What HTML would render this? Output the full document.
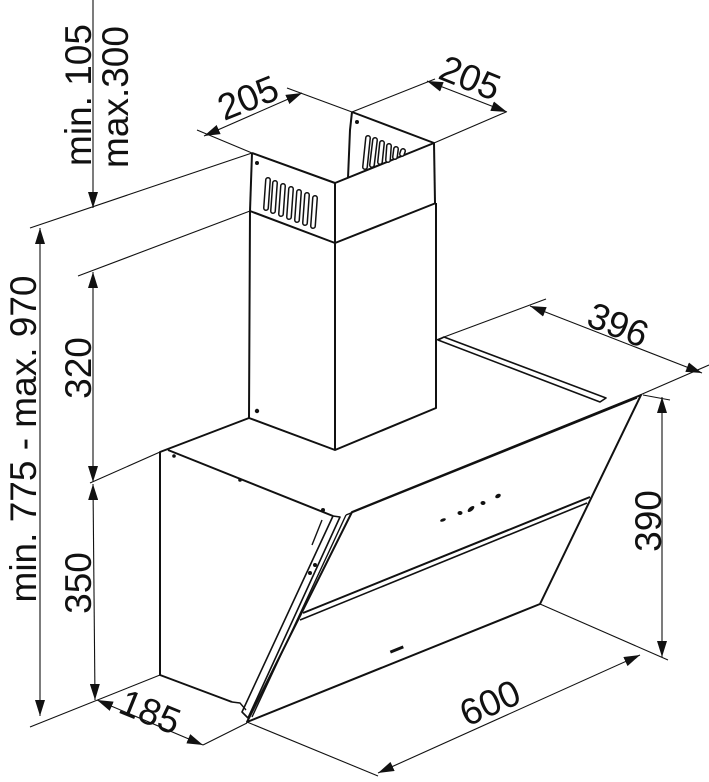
<!DOCTYPE html>
<html><head><meta charset="utf-8"><style>
html,body{margin:0;padding:0;background:#fff}
svg{display:block}
text{font-family:"Liberation Sans",sans-serif;font-size:37px;fill:#111}
</style></head><body>
<svg width="709" height="782" viewBox="0 0 709 782" xmlns="http://www.w3.org/2000/svg">
<defs>
<marker id="a" viewBox="0 0 16 10" refX="16" refY="5" markerWidth="16" markerHeight="10" markerUnits="userSpaceOnUse" orient="auto-start-reverse">
<path d="M0,0 L16,5 L0,10 z" fill="#111"/>
</marker>
</defs>
<g stroke="#111" stroke-width="1.1" fill="none">
<line x1="30" y1="228" x2="252" y2="153"/>
<line x1="78" y1="276" x2="250" y2="211"/>
<line x1="90" y1="483" x2="160" y2="452"/>
<line x1="30" y1="727" x2="160" y2="675"/>
<line x1="203" y1="745" x2="247" y2="723"/>
<line x1="247" y1="722" x2="378" y2="776"/>
<line x1="540" y1="604" x2="668" y2="660"/>
<line x1="643" y1="395" x2="670" y2="400"/>
<line x1="436" y1="340" x2="546" y2="299"/>
<line x1="640" y1="395" x2="709" y2="365"/>
<line x1="197" y1="130" x2="252" y2="153"/>
<line x1="287" y1="88" x2="352" y2="112"/>
<line x1="352" y1="112" x2="435" y2="79"/>
<line x1="434" y1="143" x2="506" y2="112"/>
<line x1="40" y1="228" x2="40" y2="716" marker-start="url(#a)" marker-end="url(#a)"/>
<line x1="93" y1="0" x2="93" y2="208" marker-end="url(#a)"/>
<line x1="93" y1="272" x2="93" y2="482" marker-start="url(#a)" marker-end="url(#a)"/>
<line x1="93" y1="484" x2="95" y2="700" marker-start="url(#a)" marker-end="url(#a)"/>
<line x1="97" y1="700" x2="203" y2="745" marker-start="url(#a)" marker-end="url(#a)"/>
<line x1="378" y1="773" x2="640" y2="655" marker-start="url(#a)" marker-end="url(#a)"/>
<line x1="662" y1="397" x2="662" y2="657" marker-start="url(#a)" marker-end="url(#a)"/>
<line x1="530" y1="306" x2="702" y2="373" marker-start="url(#a)" marker-end="url(#a)"/>
<line x1="204" y1="136" x2="302" y2="93" marker-start="url(#a)" marker-end="url(#a)"/>
<line x1="427" y1="81" x2="507" y2="112" marker-start="url(#a)" marker-end="url(#a)"/>
</g>
<g stroke="#111" stroke-width="2" fill="none" stroke-linejoin="round">
<path d="M252,153 L335,183 L434,143 L352,112"/>
<path d="M352,112 L350,130 L348,178"/>
<line x1="252" y1="153" x2="250" y2="211"/>
<line x1="335" y1="183" x2="335" y2="243"/>
<line x1="434" y1="143" x2="435" y2="203"/>
<path d="M250,211 L335,243 L436,203"/>
<path d="M250,211 L249,418 L335,450 L436,408 L436,203"/>
<line x1="335" y1="243" x2="335" y2="450"/>
<path d="M249,418 L160,452 L160,675 L232,702"/>
<path d="M168,450 L333,516"/>
<path d="M333,516 L340,517 L248,718 L242,712 Z" stroke-width="1.6"/>
<path d="M322,520 L312,545" stroke-width="1.4"/>
<path d="M232,702 L240,703 L246,710" stroke-width="1.4"/>
<path d="M352,512 L641,395 L540,604 L247,722 Z"/>
<path d="M346,515 L637,398" stroke-width="1.4"/>
<path d="M346,515 L252,717" stroke-width="1.4"/>
<path d="M303,613 L590,497" stroke-width="2"/>
<path d="M300,620 L587,503" stroke-width="1.6"/>
<path d="M438,340 L600,402 L606,398 L444,337 Z" stroke-width="1.6"/>
</g>
<g stroke-linecap="round">
<g stroke="#111" stroke-width="6">
<line x1="268" y1="180" x2="266" y2="208"/><line x1="275" y1="183" x2="273" y2="211"/><line x1="283" y1="186" x2="281" y2="214"/><line x1="291" y1="189" x2="289" y2="217"/><line x1="299" y1="192" x2="297" y2="220"/><line x1="307" y1="195" x2="305" y2="223"/><line x1="315" y1="198" x2="313" y2="226"/>
<line x1="368" y1="138" x2="365" y2="167"/><line x1="375" y1="140" x2="372" y2="165"/><line x1="382" y1="143" x2="380" y2="162"/><line x1="389" y1="146" x2="388" y2="160"/><line x1="396" y1="149" x2="395" y2="157"/><line x1="403" y1="151" x2="402" y2="154"/>
</g>
<g stroke="#fff" stroke-width="3">
<line x1="268" y1="180" x2="266" y2="208"/><line x1="275" y1="183" x2="273" y2="211"/><line x1="283" y1="186" x2="281" y2="214"/><line x1="291" y1="189" x2="289" y2="217"/><line x1="299" y1="192" x2="297" y2="220"/><line x1="307" y1="195" x2="305" y2="223"/><line x1="315" y1="198" x2="313" y2="226"/>
<line x1="368" y1="138" x2="365" y2="167"/><line x1="375" y1="140" x2="372" y2="165"/><line x1="382" y1="143" x2="380" y2="162"/><line x1="389" y1="146" x2="388" y2="160"/><line x1="396" y1="149" x2="395" y2="157"/><line x1="403" y1="151" x2="402" y2="154"/>
</g>
</g>
<g fill="#111">
<circle cx="257" cy="163" r="2"/><circle cx="357" cy="122" r="2"/><circle cx="257" cy="411" r="2.2"/>
<circle cx="174" cy="456" r="1.8"/><circle cx="240" cy="480" r="1.8"/><circle cx="323" cy="510" r="2"/>
<circle cx="315" cy="565" r="2"/><circle cx="310" cy="573" r="2"/>
<ellipse cx="443" cy="520" rx="3" ry="1.5" transform="rotate(-22 443 520)"/>
<ellipse cx="460" cy="513" rx="2.5" ry="2"/>
<ellipse cx="471" cy="509" rx="4" ry="2" transform="rotate(-40 471 509)"/>
<ellipse cx="483" cy="503" rx="2.5" ry="2"/>
<ellipse cx="498" cy="496" rx="3" ry="2" transform="rotate(-30 498 496)"/>
<rect x="390" y="648" width="14" height="3" transform="rotate(-22 397 650)"/>
</g>
<text transform="translate(36,439) rotate(-90)" text-anchor="middle">min. 775 - max. 970</text>
<text transform="translate(91,95) rotate(-90)" text-anchor="middle">min. 105</text>
<text transform="translate(128,97) rotate(-90)" text-anchor="middle">max.300</text>
<text transform="translate(91,368) rotate(-90)" text-anchor="middle">320</text>
<text transform="translate(91,583) rotate(-90)" text-anchor="middle">350</text>
<text transform="translate(661,521) rotate(-90)" text-anchor="middle">390</text>
<text transform="translate(150,712) rotate(22)" text-anchor="middle" dominant-baseline="central">185</text>
<text transform="translate(490,703) rotate(-24)" text-anchor="middle" dominant-baseline="central">600</text>
<text transform="translate(248,98) rotate(-22)" text-anchor="middle" dominant-baseline="central">205</text>
<text transform="translate(470,78) rotate(22)" text-anchor="middle" dominant-baseline="central">205</text>
<text transform="translate(618,325) rotate(22)" text-anchor="middle" dominant-baseline="central">396</text>
</svg>
</body></html>
